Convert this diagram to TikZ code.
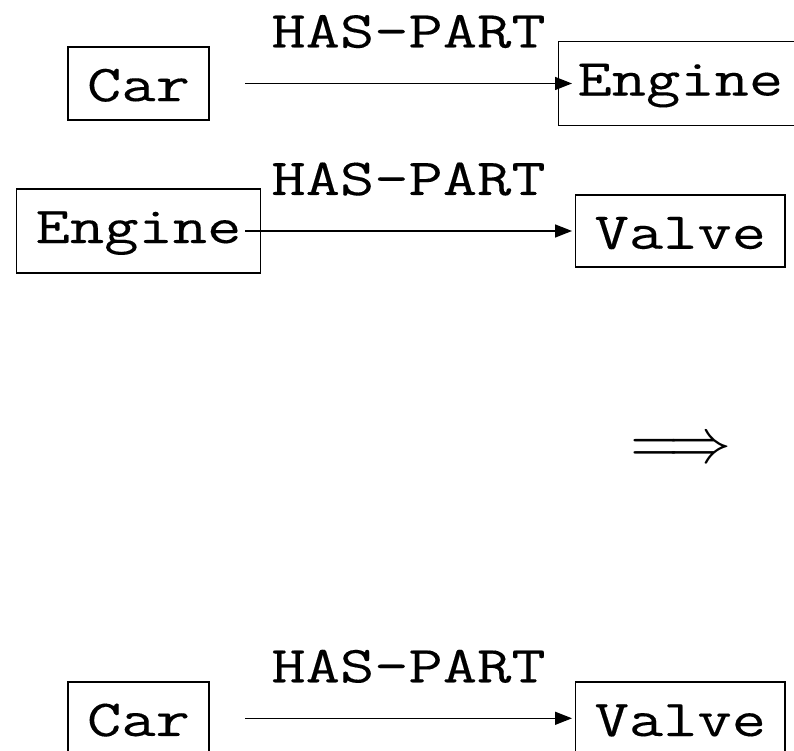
\documentclass[tikz,border=0pt]{standalone}
\usepackage{fontspec}
\usetikzlibrary{arrows.meta}
\newfontfamily\conceptfont[FakeStretch=1.28, FakeBold=0.2]{Latin Modern Mono}
\def\leftcol{138.5}
\def\rightcol{680.3}

\begin{document}
\begin{tikzpicture}[x=1pt, y=1pt, line width=1.5pt, font=\conceptfont\fontsize{52}{60}\selectfont]
    \tikzstyle{concept}=[draw, text height=36pt, inner xsep=19pt, inner ysep=18pt]
    \tikzstyle{rel}=[anchor=base, yshift=36pt, inner sep=0pt]
    \tikzstyle{link}=[-{Triangle[length=17pt,width=13pt]}]

    \useasboundingbox (0,0) rectangle (794,751);

    % Tail and head columns of the relation arrows
    \coordinate (tail) at (245,0);
    \coordinate (head) at (572,0);

    % Draw the concepts, one row per fact
    \foreach \name / \from / \to / \y in {1/Car/Engine/667.5, 2/Engine/Valve/520, 3/Car/Valve/32.7} {
        \node[concept] (L-\name) at (\leftcol,\y) {\from};
        \node[concept] (R-\name) at (\rightcol,\y) {\to};
    }

    % Connect each pair by its relation
    \foreach \name in {1,...,3}
        \draw[link] (L-\name -| tail) -- node[rel] {HAS-PART} (R-\name -| head);

    % The inference step
    \node[font=\normalsize, scale=6.3, inner sep=0pt] (implies) at (681,300) {$\Longrightarrow$};
\end{tikzpicture}
\end{document}
